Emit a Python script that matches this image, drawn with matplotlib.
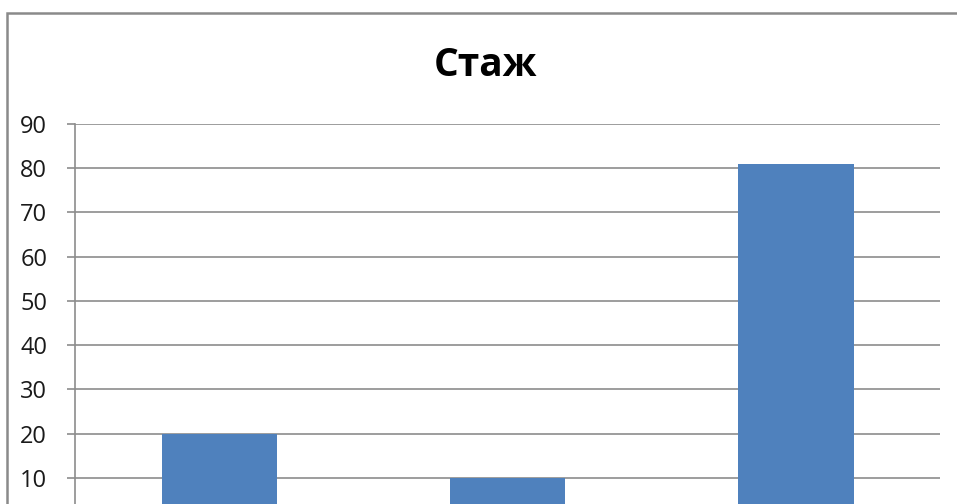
import matplotlib
matplotlib.use("Agg")
import matplotlib.pyplot as plt
from matplotlib.lines import Line2D

categories = ["1", "2", "3"]
values = [20, 10, 81]
yticks = [10, 20, 30, 40, 50, 60, 70, 80, 90]
title = "Стаж"

W, H = 957, 504
fig = plt.figure(figsize=(W / 100, H / 100), dpi=100)

# outer chart border (only left and top edges are visible in the crop)
bx, by = 7.5 / W, 1 - 12.5 / H
fig.add_artist(Line2D([bx, bx, 1.0], [0.0, by, by], transform=fig.transFigure,
                      color="#8a8a8a", linewidth=1.8, solid_joinstyle="miter"))

left, right, top, bottom = 75, 940, 124, 522
ax = fig.add_axes([left / W, 1 - bottom / H, (right - left) / W, (bottom - top) / H])
x = list(range(len(categories)))
ax.bar(x, values, width=0.4, color="#4F81BD", zorder=3)
ax.set_xlim(-0.5, len(categories) - 0.5)
ax.set_ylim(0, 90)
ax.set_yticks(yticks)
ax.set_xticks([])
ax.grid(axis="y", color="#8c8c8c", linewidth=1.2, zorder=0)
for s in ["top", "right", "bottom"]:
    ax.spines[s].set_visible(False)
ax.spines["left"].set_color("#8c8c8c")
ax.spines["left"].set_linewidth(1.2)
ax.tick_params(axis="y", length=6, width=1.2, color="#8c8c8c", pad=14,
               labelsize=17, labelcolor="#1a1a1a")
for lab in ax.get_yticklabels():
    lab.set_fontfamily("Open Sans")

fig.text(486 / W, 1 - 66 / H, title, ha="center", va="center",
         fontsize=28, fontweight="bold", fontfamily="Open Sans", color="black")

fig.savefig("out.png", dpi=100)
